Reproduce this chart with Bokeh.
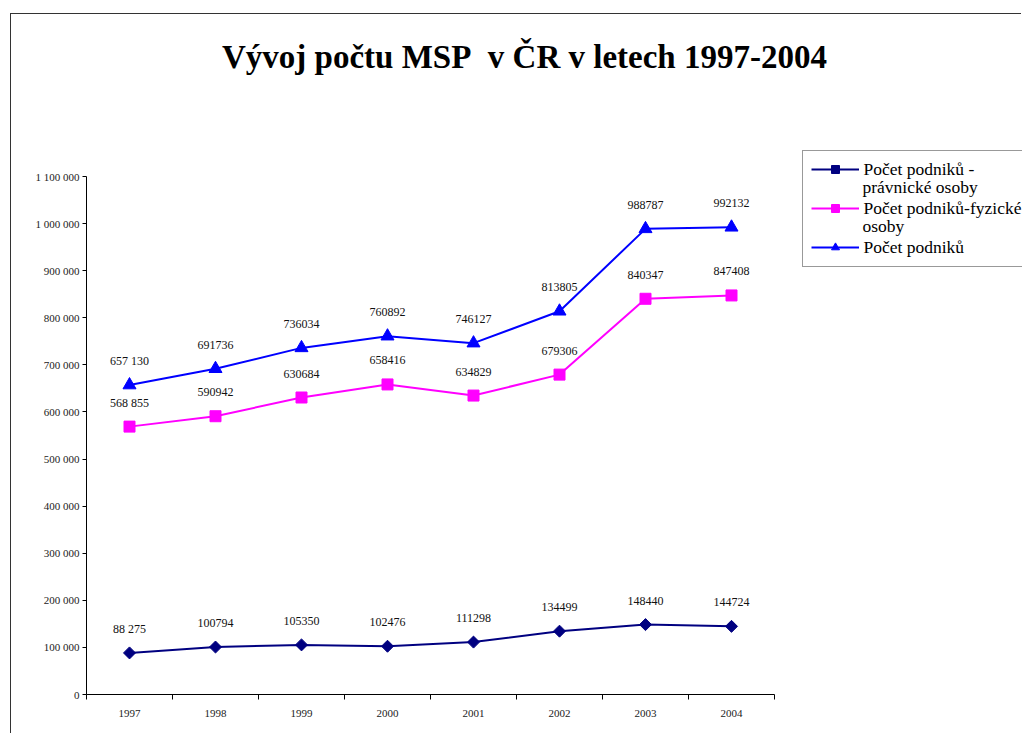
import numpy as np
from bokeh.plotting import figure
from bokeh.models import Range1d, FixedTicker, Label, Legend, LegendItem
from bokeh.embed import file_html
from bokeh.resources import INLINE
from bokeh.core.properties import value

# ---- data ----
years = ["1997", "1998", "1999", "2000", "2001", "2002", "2003", "2004"]
pravnicke = [88275, 100794, 105350, 102476, 111298, 134499, 148440, 144724]
fyzicke = [568855, 590942, 630684, 658416, 634829, 679306, 840347, 847408]
celkem = [657130, 691736, 736034, 760892, 746127, 813805, 988787, 992132]
lab_pravnicke = ["88 275", "100794", "105350", "102476", "111298", "134499", "148440", "144724"]
lab_fyzicke = ["568 855", "590942", "630684", "658416", "634829", "679306", "840347", "847408"]
lab_celkem = ["657 130", "691736", "736034", "760892", "746127", "813805", "988787", "992132"]
legend_names = ["Počet podniků -", "Počet podniků-fyzické", "Počet podniků"]
legend_second = ["právnické osoby", "osoby"]
title_text = "Vývoj počtu MSP\u00a0 v ČR v letech 1997-2004"
y_ticks = list(range(0, 1100001, 100000))

SERIF = "Liberation Serif"
xpos = np.arange(len(years)) + 0.5

# layout (pixels)
W, H = 1011, 720
LEFT, BOTTOM = 75, 40
FRAME_W, FRAME_H = W - LEFT, H - BOTTOM
AXIS_W_PX, AXIS_H_PX = 688, 518          # visible extent of the axes
x_end = len(years) * FRAME_W / AXIS_W_PX
y_end = y_ticks[-1] * FRAME_H / AXIS_H_PX

p = figure(width=W, height=H, output_backend="svg", toolbar_location=None,
           x_range=Range1d(0, x_end), y_range=Range1d(0, y_end),
           min_border_left=LEFT, min_border_right=0, min_border_top=0, min_border_bottom=BOTTOM)
p.styles = {"border-top": "1.5px solid #333", "border-left": "1.5px solid #333",
            "margin-left": "10px", "margin-top": "13px"}
p.outline_line_color = None
p.xgrid.visible = False
p.ygrid.visible = False
p.background_fill_color = "white"
p.border_fill_color = "white"

# axes
xa = p.xaxis[0]
xa.bounds = (0, len(years))
xa.ticker = FixedTicker(ticks=list(xpos), minor_ticks=list(range(len(years) + 1)))
xa.major_label_overrides = {float(x): y for x, y in zip(xpos, years)}
xa.major_tick_line_color = None
xa.major_tick_out = 0
xa.major_tick_in = 0
xa.minor_tick_line_color = "black"
xa.minor_tick_out = 5
xa.minor_tick_in = 0
xa.major_label_standoff = 10
xa.major_label_text_font = SERIF
xa.major_label_text_font_size = "11px"
xa.major_label_text_color = "#222"
xa.axis_line_color = "black"

ya = p.yaxis[0]
ya.bounds = (0, y_ticks[-1])
ya.ticker = FixedTicker(ticks=y_ticks)
ya.major_label_overrides = {v: f"{v:,}".replace(",", " ") for v in y_ticks}
ya.major_tick_out = 4
ya.major_tick_in = 0
ya.minor_tick_line_color = None
ya.major_label_standoff = 3
ya.major_label_text_font = SERIF
ya.major_label_text_font_size = "11px"
ya.major_label_text_color = "#222"
ya.axis_line_color = "black"

# series
r1l = p.line(xpos, pravnicke, line_color="#000080", line_width=2)
r1m = p.scatter(xpos, pravnicke, marker="square", angle=np.pi / 4, size=8.5,
                fill_color="#000080", line_color="#000080")
r2l = p.line(xpos, fyzicke, line_color="#FF00FF", line_width=2)
r2m = p.scatter(xpos, fyzicke, marker="square", size=11,
                fill_color="#FF00FF", line_color="#FF00FF")
r3l = p.line(xpos, celkem, line_color="#0000FF", line_width=2)
r3m = p.scatter(xpos, celkem, marker="triangle", size=13,
                fill_color="#0000FF", line_color="#0000FF")

for vals, labs in ((pravnicke, lab_pravnicke), (fyzicke, lab_fyzicke), (celkem, lab_celkem)):
    p.text(x=xpos, y=vals, text=labs, text_font=value(SERIF), text_font_size="12px",
           text_align="center", text_baseline="middle", y_offset=-24, text_color="#111")

# legend (transparent fill so the wrapped second lines show through)
legend = Legend(items=[LegendItem(label=legend_names[0], renderers=[r1l, r1m]),
                       LegendItem(label=legend_names[1], renderers=[r2l, r2m]),
                       LegendItem(label=legend_names[2], renderers=[r3l, r3m])],
                location=(715.5, 427.5), orientation="vertical",
                padding=8, spacing=18, margin=0, glyph_width=48, glyph_height=20,
                label_height=20, label_width=200, label_standoff=5,
                label_text_font=SERIF, label_text_font_size="17.5px", label_text_color="black",
                border_line_color="#333", border_line_width=1.5,
                background_fill_alpha=0.0)
p.add_layout(legend)

for txt, ybase in zip(legend_second, (507.5, 468.5)):
    p.add_layout(Label(x=776, y=ybase, x_units="screen", y_units="screen", text=txt,
                       text_font=SERIF, text_font_size="17.5px", text_baseline="alphabetic",
                       text_color="black", level="overlay"))

# title (screen units relative to the frame's bottom-left)
p.add_layout(Label(x=438, y=638, x_units="screen", y_units="screen", text=title_text,
                   text_font=SERIF, text_font_size="33px", text_font_style="bold",
                   text_align="center", text_baseline="alphabetic", text_color="black",
                   level="overlay"))

open("out.html", "w").write(file_html(p, INLINE))
